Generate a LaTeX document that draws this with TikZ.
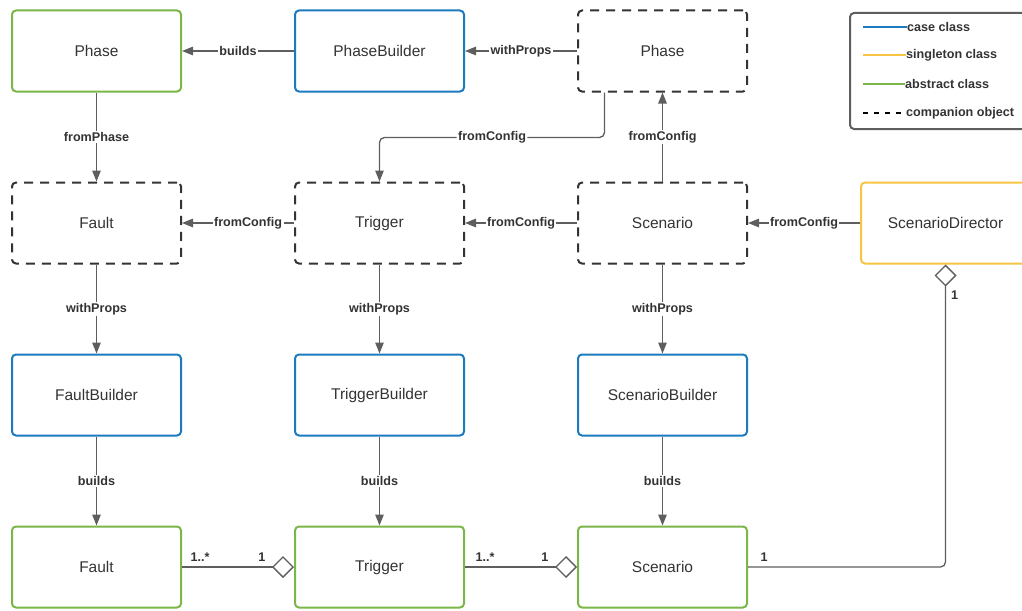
\documentclass[tikz,border=0pt]{standalone}
\usepackage{fontspec}
\setmainfont{Liberation Sans}
\usetikzlibrary{positioning, arrows.meta, calc}

\definecolor{caseblue}{HTML}{1B7BBE}
\definecolor{singleyellow}{HTML}{F7C443}
\definecolor{absgreen}{HTML}{7AB648}
\definecolor{linegray}{HTML}{5E5E5E}
\definecolor{txtgray}{HTML}{333333}

\begin{document}
\begin{tikzpicture}[x=1pt, y=-1pt, >={Triangle[length=11pt,width=8.5pt]}, node distance=89pt and 112pt,
  cls/.style={draw,rounded corners=4pt,line width=2pt,minimum width=169pt,minimum height=81pt,align=center,text=txtgray,font=\fontsize{15.5}{18}\selectfont},
  caseclass/.style={cls,draw=caseblue},
  singleton/.style={cls,draw=singleyellow},
  absclass/.style={cls,draw=absgreen},
  companion/.style={cls,draw=txtgray,dash pattern=on 9pt off 7pt},
  conn/.style={draw=linegray,line width=1.3pt},
  lbl/.style={fill=white,inner sep=1.5pt,text=txtgray,font=\fontsize{12.6}{15}\selectfont\bfseries},
  mult/.style={inner sep=0pt,text=txtgray,font=\fontsize{12.6}{15}\selectfont\bfseries},
  legtext/.style={inner sep=0pt,anchor=west,text=txtgray,font=\fontsize{12.6}{15}\selectfont\bfseries},
  agg/.style={conn,-{Diamond[length=22pt,width=22pt,fill=white]}}]
  \clip (0,0) rectangle (1022,610);
  % top row
  \node[absclass] (phase) at (96.5,51) {Phase};
  \node[caseclass, right=of phase] (phasebuilder) {PhaseBuilder};
  \node[companion, right=of phasebuilder] (phasecomp) {Phase};
  % companion objects
  \node[companion, below=of phase] (faultcomp) {Fault};
  \node[companion, right=of faultcomp] (triggercomp) {Trigger};
  \node[companion, right=of triggercomp] (scenariocomp) {Scenario};
  \node[singleton, right=of scenariocomp] (director) {ScenarioDirector};
  % builders
  \node[caseclass, below=of faultcomp] (faultbuilder) {FaultBuilder};
  \node[caseclass, below=of triggercomp] (triggerbuilder) {TriggerBuilder};
  \node[caseclass, below=of scenariocomp] (scenariobuilder) {ScenarioBuilder};
  % classes
  \node[absclass, below=of faultbuilder] (fault) {Fault};
  \node[absclass, below=of triggerbuilder] (trigger) {Trigger};
  \node[absclass, below=of scenariobuilder] (scenario) {Scenario};

  % legend
  \node[draw=linegray,line width=2pt,rounded corners=4pt,minimum width=190pt,minimum height=116pt,anchor=north west] (legend) at (849,12) {};
  \node[legtext] (lgcase) at (907,27) {case class};
  \node[legtext] (lgsingle) at (906,55) {singleton class};
  \node[legtext] (lgabs) at (905,84) {abstract class};
  \node[legtext] (lgcomp) at (906,113) {companion object};
  \draw[caseblue, line width=1.5pt] (863,27) -- (lgcase.west);
  \draw[singleyellow, line width=1.5pt] (863,55) -- (lgsingle.west);
  \draw[absgreen, line width=1.5pt] (863,84) -- (lgabs.west);
  \draw[black, line width=1.3pt, dash pattern=on 5pt off 6pt] (863,113) -- ([xshift=-3pt]lgcomp.west);

  % connectors
  \draw[conn, ->] (phasebuilder) -- (phase) node[lbl, midway] {builds};
  \draw[conn, ->] (phasecomp) -- (phasebuilder) node[lbl, midway] {withProps};
  \draw[conn, ->] (phase) -- (faultcomp) node[lbl, midway] {fromPhase};
  \draw[conn, ->, rounded corners=5pt] ([xshift=-58pt]phasecomp.south) -- ++(0,45) -| node[lbl, pos=0.25] {fromConfig} (triggercomp.north);
  \draw[conn, ->] (scenariocomp) -- (phasecomp) node[lbl, midway] {fromConfig};
  \draw[conn, ->] (triggercomp) -- (faultcomp) node[lbl, pos=0.41] {fromConfig};
  \draw[conn, ->] (scenariocomp) -- (triggercomp) node[lbl, midway] {fromConfig};
  \draw[conn, ->] (director) -- (scenariocomp) node[lbl, midway] {fromConfig};
  \draw[conn, ->] (faultcomp) -- (faultbuilder) node[lbl, midway] {withProps};
  \draw[conn, ->] (triggercomp) -- (triggerbuilder) node[lbl, midway] {withProps};
  \draw[conn, ->] (scenariocomp) -- (scenariobuilder) node[lbl, midway] {withProps};
  \draw[conn, ->] (faultbuilder) -- (fault) node[lbl, midway] {builds};
  \draw[conn, ->] (triggerbuilder) -- (trigger) node[lbl, midway] {builds};
  \draw[conn, ->] (scenariobuilder) -- (scenario) node[lbl, midway] {builds};

  % aggregations
  \draw[agg] (fault) -- (trigger)
    node[mult, pos=0, anchor=south west, xshift=8pt, yshift=5pt] {1..*}
    node[mult, pos=1, anchor=south east, xshift=-28pt, yshift=5pt] {1};
  \draw[agg] (trigger) -- (scenario)
    node[mult, pos=0, anchor=south west, xshift=10pt, yshift=5pt] {1..*}
    node[mult, pos=1, anchor=south east, xshift=-28pt, yshift=5pt] {1};
  \draw[agg, rounded corners=5pt] (scenario) -| (director.south)
    node[mult, pos=0, anchor=south west, xshift=12pt, yshift=5pt] {1}
    node[mult, pos=1, anchor=north west, xshift=5pt, yshift=-26pt] {1};
\end{tikzpicture}
\end{document}
